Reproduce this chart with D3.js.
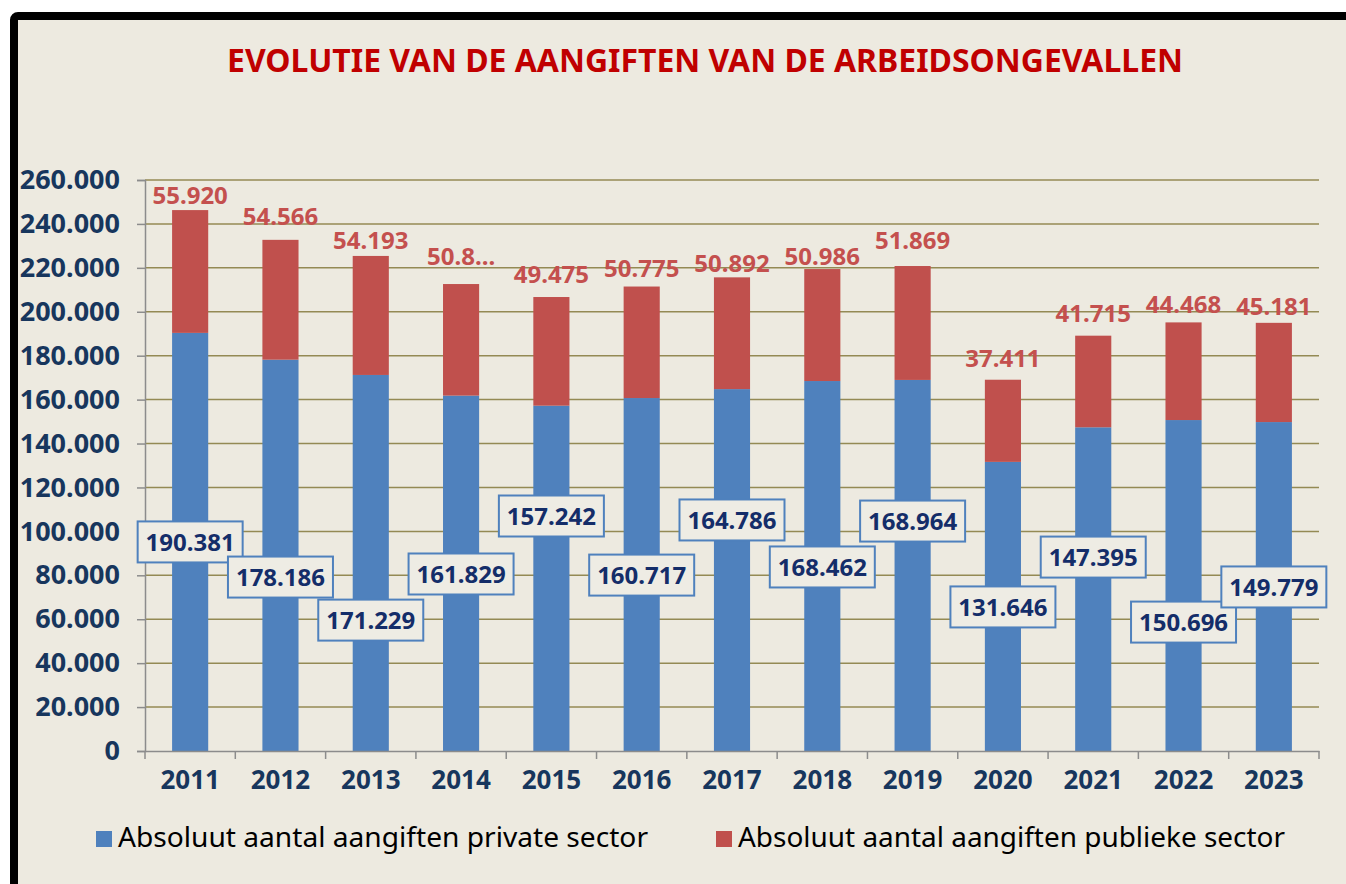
<!DOCTYPE html>
<html lang="nl">
<head>
    <meta charset="UTF-8">
    <title>Evolutie van de aangiften van de arbeidsongevallen</title>
    <script src="https://d3js.org/d3.v7.min.js"></script>
    <style>
        html, body { margin: 0; padding: 0; background: #ffffff; }
        svg { display: block; font-family: "Noto Sans", "DejaVu Sans", sans-serif; }
    </style>
</head>
<body>

<script>
    // Gegevens
    var years = ["2011", "2012", "2013", "2014", "2015", "2016", "2017", "2018", "2019", "2020", "2021", "2022", "2023"];
    var privateValues = [190381, 178186, 171229, 161829, 157242, 160717, 164786, 168462, 168964, 131646, 147395, 150696, 149779];
    var publicValues = [55920, 54566, 54193, 50800, 49475, 50775, 50892, 50986, 51869, 37411, 41715, 44468, 45181];
    var yTicks = [0, 20000, 40000, 60000, 80000, 100000, 120000, 140000, 160000, 180000, 200000, 220000, 240000, 260000];
    var seriesNames = ["Absoluut aantal aangiften private sector", "Absoluut aantal aangiften publieke sector"];
    var truncatedYear = "2014"; // label staat afgekapt in het origineel

    // Hoogte (in aantallen) waar de handmatig verschoven labels staan
    var privateLabelAt = [95200, 79200, 59600, 80600, 107000, 80100, 105200, 83800, 104700, 65600, 88300, 58700, 74700];
    var publicLabelAt = [253200, 243600, 232700, 225400, 217200, 219900, 222200, 225400, 232700, 178900, 199400, 203500, 202600];

    var width = 1346;
    var height = 884;
    var colors = ["#4f81bd", "#c0504d"];

    var nl = d3.formatLocale({ decimal: ",", thousands: ".", grouping: [3], currency: ["", ""] });
    var fmt = nl.format(",");

    var svg = d3.select("body").append("svg")
        .attr("width", width)
        .attr("height", height);

    // Kader
    svg.append("rect")
        .attr("x", 14).attr("y", 16)
        .attr("width", 1400).attr("height", 920)
        .attr("rx", 4)
        .attr("fill", "#edeae0")
        .attr("stroke", "#000")
        .attr("stroke-width", 8);

    // Titel
    svg.append("text")
        .attr("x", 705).attr("y", 72)
        .attr("text-anchor", "middle")
        .attr("font-size", 33)
        .attr("font-weight", "bold")
        .attr("fill", "#c00000")
        .attr("textLength", 956)
        .attr("lengthAdjust", "spacingAndGlyphs")
        .text("EVOLUTIE VAN DE AANGIFTEN VAN DE ARBEIDSONGEVALLEN");

    var data = years.map(function (y, i) {
        return { year: y, priv: privateValues[i], pub: publicValues[i], privAt: privateLabelAt[i], pubAt: publicLabelAt[i] };
    });

    var xScale = d3.scaleBand()
        .domain(years)
        .range([145, 1319])
        .paddingInner(0.6)
        .paddingOuter(0.3);

    var yScale = d3.scaleLinear()
        .domain([0, 260000])
        .range([751, 180]);

    // Rasterlijnen
    svg.append("g")
        .selectAll("line")
        .data(yTicks.filter(function (d) { return d > 0; }))
        .enter().append("line")
        .attr("x1", 145).attr("x2", 1319)
        .attr("y1", function (d) { return yScale(d); })
        .attr("y2", function (d) { return yScale(d); })
        .attr("stroke", "#948a54")
        .attr("stroke-width", 1.5);

    // Gestapelde staven
    var stack = d3.stack().keys(["priv", "pub"]);
    var layers = stack(data);

    svg.append("g")
        .selectAll("g")
        .data(layers)
        .enter().append("g")
        .attr("fill", function (d, i) { return colors[i]; })
        .selectAll("rect")
        .data(function (d) { return d; })
        .enter().append("rect")
        .attr("x", function (d) { return xScale(d.data.year); })
        .attr("y", function (d) { return yScale(d[1]); })
        .attr("width", xScale.bandwidth())
        .attr("height", function (d) { return yScale(d[0]) - yScale(d[1]); });

    // Y-as
    var yAxis = svg.append("g")
        .attr("transform", "translate(145,0)")
        .call(d3.axisLeft(yScale).tickValues(yTicks).tickFormat(fmt).tickSize(8).tickPadding(17));
    yAxis.select(".domain").attr("stroke", "#8c8c8c").attr("stroke-width", 1.5);
    yAxis.selectAll(".tick line").attr("stroke", "#8c8c8c").attr("stroke-width", 1.5);
    yAxis.selectAll(".tick text")
        .attr("font-family", "Noto Sans, sans-serif")
        .attr("font-size", 27)
        .attr("font-weight", "bold")
        .attr("fill", "#17365d");

    // X-as
    var xAxis = svg.append("g")
        .attr("transform", "translate(0,751)")
        .call(d3.axisBottom(xScale).tickSize(0).tickPadding(20));
    xAxis.select(".domain").attr("stroke", "#8c8c8c").attr("stroke-width", 1.5);
    xAxis.selectAll(".tick text")
        .attr("font-family", "Noto Sans, sans-serif")
        .attr("font-size", 26)
        .attr("font-weight", "bold")
        .attr("fill", "#17365d");

    // Streepjes tussen de categorieën
    var step = xScale.step();
    var bounds = years.map(function (y) { return xScale(y) - step * 0.3; }).concat([1319]);
    svg.append("g")
        .selectAll("line")
        .data(bounds)
        .enter().append("line")
        .attr("x1", function (d) { return d; }).attr("x2", function (d) { return d; })
        .attr("y1", 751).attr("y2", 759)
        .attr("stroke", "#8c8c8c")
        .attr("stroke-width", 1.5);

    // Labels publieke sector
    svg.append("g")
        .selectAll("text")
        .data(data)
        .enter().append("text")
        .attr("x", function (d) { return xScale(d.year) + xScale.bandwidth() / 2; })
        .attr("y", function (d) { return yScale(d.pubAt); })
        .attr("dy", "0.36em")
        .attr("text-anchor", "middle")
        .attr("font-size", 24)
        .attr("font-weight", "bold")
        .attr("fill", "#c4504e")
        .text(function (d) { return d.year === truncatedYear ? fmt(d.pub).slice(0, 4) + "..." : fmt(d.pub); });

    // Labels private sector (in kaders)
    var boxW = 105, boxH = 41;
    var privLabels = svg.append("g")
        .selectAll("g")
        .data(data)
        .enter().append("g")
        .attr("transform", function (d) {
            return "translate(" + (xScale(d.year) + xScale.bandwidth() / 2) + "," + yScale(d.privAt) + ")";
        });
    privLabels.append("rect")
        .attr("x", -boxW / 2).attr("y", -boxH / 2)
        .attr("width", boxW).attr("height", boxH)
        .attr("fill", "#eeece4")
        .attr("stroke", "#4f81bd")
        .attr("stroke-width", 2);
    privLabels.append("text")
        .attr("text-anchor", "middle")
        .attr("dy", "0.36em")
        .attr("font-size", 24)
        .attr("font-weight", "bold")
        .attr("fill", "#142d69")
        .text(function (d) { return fmt(d.priv); });

    // Legenda
    var legendX = [96, 716];
    var legendLen = [530, 547];
    var legend = svg.append("g")
        .selectAll("g")
        .data(seriesNames)
        .enter().append("g")
        .attr("transform", function (d, i) { return "translate(" + legendX[i] + ",831)"; });
    legend.append("rect")
        .attr("width", 16).attr("height", 16)
        .attr("fill", function (d, i) { return colors[i]; });
    legend.append("text")
        .attr("x", 22).attr("y", 16)
        .attr("font-size", 27)
        .attr("fill", "#000")
        .attr("textLength", function (d, i) { return legendLen[i]; })
        .attr("lengthAdjust", "spacingAndGlyphs")
        .text(function (d) { return d; });
</script>

</body>
</html>
